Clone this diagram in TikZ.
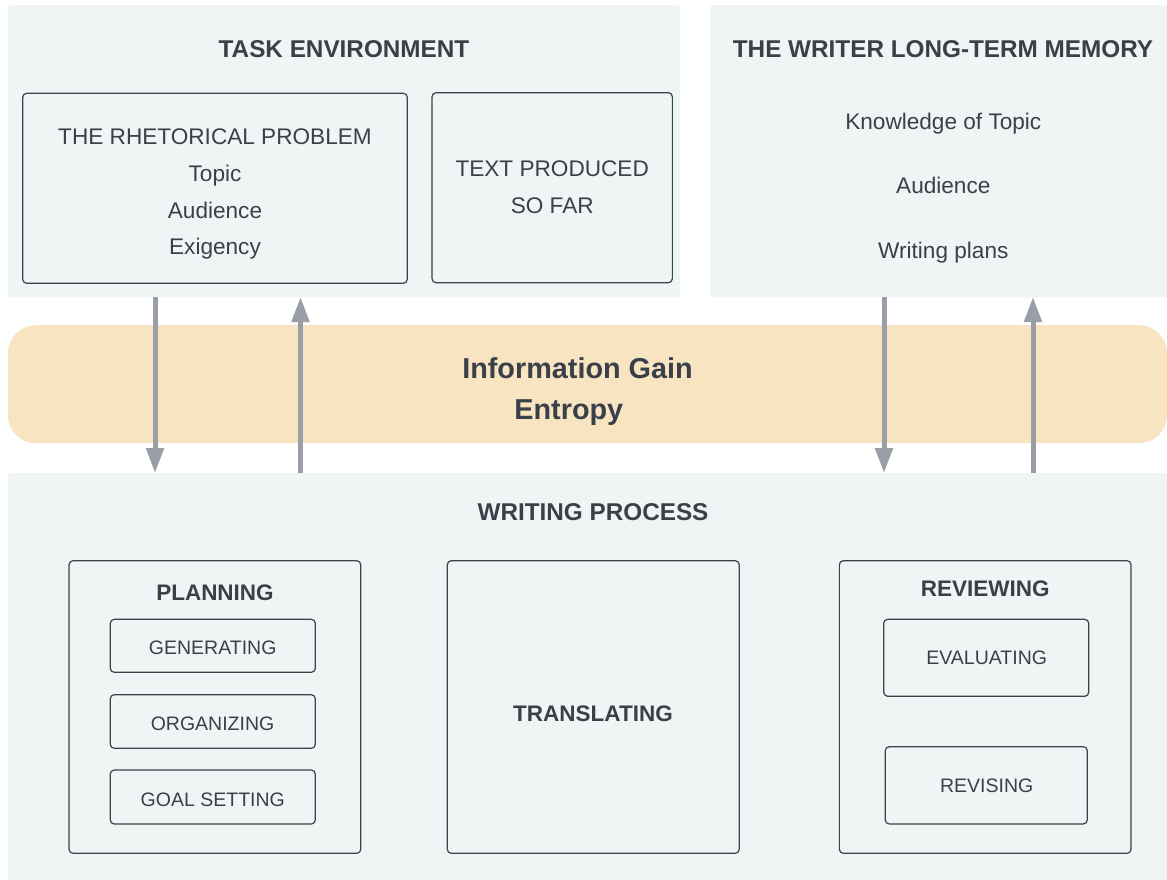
\documentclass[tikz,border=0pt]{standalone}
\usepackage{fontspec}
\setmainfont{Liberation Sans}
\usetikzlibrary{arrows.meta}
\definecolor{panelfill}{HTML}{EFF4F4}
\definecolor{bandfill}{HTML}{F8E4C0}
\definecolor{boxline}{HTML}{3D434A}
\definecolor{txt}{HTML}{3A4049}
\definecolor{arrowgray}{HTML}{9A9EA7}
\tikzset{
  panel/.style={fill=panelfill, draw=none, rounded corners=3pt, inner sep=0pt, outer sep=0pt},
  box/.style={draw=boxline, line width=1.2pt, rounded corners=4pt, inner sep=0pt, outer sep=0pt},
  lbl/.style={text=txt, inner sep=0pt, text depth=0pt},
  titlefont/.style={font=\bfseries\fontsize{24.3}{28}\selectfont, text height=17.4pt},
  subfont/.style={font=\bfseries\fontsize{22.5}{27}\selectfont, text height=16.1pt},
  bodyfont/.style={font=\fontsize{22.6}{27}\selectfont, text height=16.2pt},
  smallfont/.style={font=\fontsize{19.5}{23}\selectfont, text height=14pt},
  bigfont/.style={font=\bfseries\fontsize{28.8}{33}\selectfont, text height=20.6pt},
  flow/.style={draw=arrowgray, line width=5pt, -{Triangle[width=17pt,length=25pt]}},
}
\begin{document}
\begin{tikzpicture}[x=1pt,y=-1pt]
\useasboundingbox (0,0) rectangle (1167,879);
\fill[white] (0,0) rectangle (1167,879);
% panels
\node[panel, minimum width=672pt, minimum height=292pt] (te) at (344,151) {};
\node[panel, minimum width=470pt, minimum height=292pt] (ltm) at (945,151) {};
\node[panel, minimum width=1172pt, minimum height=410pt] (wp) at (594,678) {};
\begin{scope}
\clip (0,0) rectangle (1167,879);
\node[fill=bandfill, rounded corners=28pt, inner sep=0pt, minimum width=1159pt, minimum height=118pt] (band) at (587.5,384.2) {};
\end{scope}
% task environment
\node[lbl, titlefont] (teT) at (344,48.3) {TASK ENVIRONMENT};
\node[box, minimum width=384.6pt, minimum height=190pt] (rp) at (215,188.3) {};
\node[lbl, bodyfont] (rp1) at (215,136.7) {THE RHETORICAL PROBLEM};
\node[lbl, bodyfont] (rp2) at (215,173.5) {Topic};
\node[lbl, bodyfont] (rp3) at (215,210.2) {Audience};
\node[lbl, bodyfont] (rp4) at (215,246.8) {Exigency};
\node[box, minimum width=240.3pt, minimum height=190pt] (tp) at (552.2,187.7) {};
\node[lbl, bodyfont] (tp1) at (552.2,168.8) {TEXT PRODUCED};
\node[lbl, bodyfont] (tp2) at (552.2,205.6) {SO FAR};
% long-term memory
\node[lbl, titlefont] (ltmT) at (943,48.3) {THE WRITER LONG-TERM MEMORY};
\node[lbl, bodyfont] (ltm1) at (943.3,121.7) {Knowledge of Topic};
\node[lbl, bodyfont] (ltm2) at (943.3,185.8) {Audience};
\node[lbl, bodyfont] (ltm3) at (943.3,250) {Writing plans};
% band
\node[lbl, bigfont] (ig) at (577.5,368.3) {Information Gain};
\node[lbl, bigfont] (en) at (568.8,409.3) {Entropy};
% writing process
\node[lbl, titlefont] (wpT) at (593,511.3) {WRITING PROCESS};
\node[box, minimum width=291.7pt, minimum height=292.6pt] (pl) at (214.9,707) {};
\node[lbl, subfont] (plT) at (215,592.5) {PLANNING};
\node[box, minimum width=205pt, minimum height=53pt] (gen) at (212.8,645.8) {};
\node[lbl, smallfont] (genT) at (212.7,647.5) {GENERATING};
\node[box, minimum width=205pt, minimum height=53.6pt] (org) at (212.8,721.5) {};
\node[lbl, smallfont] (orgT) at (212.5,723.2) {ORGANIZING};
\node[box, minimum width=205pt, minimum height=54pt] (goal) at (212.8,797) {};
\node[lbl, smallfont] (goalT) at (212.8,799.2) {GOAL SETTING};
\node[box, minimum width=292pt, minimum height=292.6pt] (tr) at (593.3,707) {};
\node[lbl, subfont] (trT) at (593,713.3) {TRANSLATING};
\node[box, minimum width=291.7pt, minimum height=292.6pt] (rv) at (985.2,707) {};
\node[lbl, subfont] (rvT) at (985.2,588.8) {REVIEWING};
\node[box, minimum width=205pt, minimum height=77pt] (ev) at (986.2,657.8) {};
\node[lbl, smallfont] (evT) at (986.7,657.5) {EVALUATING};
\node[box, minimum width=202pt, minimum height=77.3pt] (rs) at (986.3,785.3) {};
\node[lbl, smallfont] (rsT) at (986.7,785) {REVISING};
% arrows
\coordinate (c1) at (155,0);
\coordinate (c2) at (300.5,0);
\coordinate (c3) at (884,0);
\coordinate (c4) at (1033,0);
\draw[flow] (te.south -| c1) -- (wp.north -| c1);
\draw[flow] (wp.north -| c2) -- (te.south -| c2);
\draw[flow] (ltm.south -| c3) -- (wp.north -| c3);
\draw[flow] (wp.north -| c4) -- (ltm.south -| c4);
\end{tikzpicture}
\end{document}
